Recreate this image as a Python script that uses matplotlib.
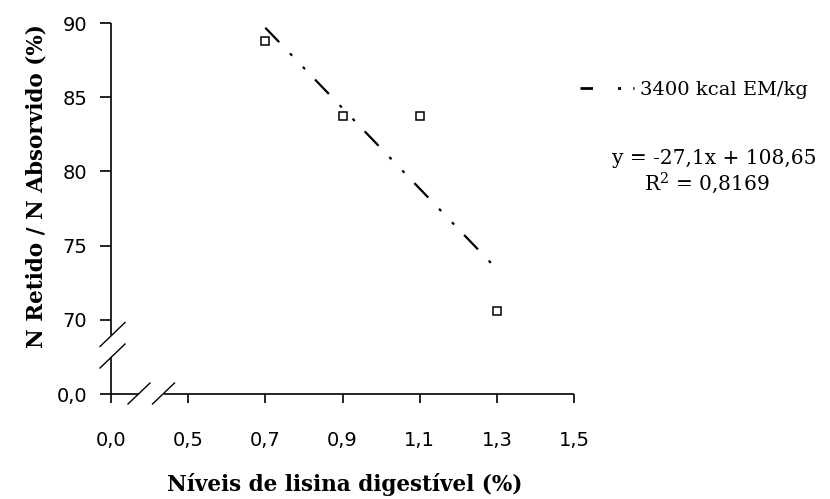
import numpy as np
import matplotlib.pyplot as plt
from matplotlib.lines import Line2D

# dados (eixo x com quebra: o "0,0" fica na posicao 0.3, eixo y: "0,0" em 65)
lisina = [0.7, 0.9, 1.1, 1.3]
n_retido = [88.8, 83.7, 83.7, 70.6]
slope = -27.1
intercept = 108.65
xticks = [0.3, 0.5, 0.7, 0.9, 1.1, 1.3, 1.5]
xlabels = ["0,0", "0,5", "0,7", "0,9", "1,1", "1,3", "1,5"]
yticks = [65, 70, 75, 80, 85, 90]
ylabels = ["0,0", "70", "75", "80", "85", "90"]

serif = "DejaVu Serif"
plt.rcParams['mathtext.fontset'] = 'dejavuserif'

fig = plt.figure(figsize=(8.3, 4.99), dpi=100)
ax = fig.add_axes([111/830, 105/499, 463/830, 371/499])
ax.set_xlim(0.3, 1.5)
ax.set_ylim(65, 90)

# linha de tendencia
tx = np.array([lisina[0], lisina[-1]])
ty = slope * tx + intercept
dashdotdot = (0, (9, 7, 1.4, 7, 1.4, 6.5))
ax.plot(tx, ty, color='black', lw=1.6, linestyle=dashdotdot, clip_on=False)
ax.plot(lisina, n_retido, 's', ms=6, mfc='white', mec='black', mew=1.1,
        linestyle='none', clip_on=False)

# eixos com quebras
for s in ax.spines.values():
    s.set_visible(False)
xpx = 1.2 / 463
ypx = 25 / 371
kw = dict(color='black', lw=1.2, clip_on=False, solid_capstyle='butt')
ax.plot([0.3, 0.3], [65, 65 + 37*ypx], **kw)
ax.plot([0.3, 0.3], [65 + 59*ypx, 90], **kw)
ax.plot([0.3, 0.3 + 28*xpx], [65, 65], **kw)
ax.plot([0.3 + 53*xpx, 1.5], [65, 65], **kw)
for cy in [59.5, 38]:
    ax.plot([0.3 - 11*xpx, 0.3 + 14*xpx], [65 + (cy - 12)*ypx, 65 + (cy + 12)*ypx],
            color='black', lw=1, clip_on=False)
for cx in [28, 52.5]:
    ax.plot([0.3 + (cx - 11)*xpx, 0.3 + (cx + 11)*xpx], [65 - 10*ypx, 65 + 11*ypx],
            color='black', lw=1, clip_on=False)

ax.set_xticks(xticks)
ax.set_xticklabels(xlabels)
ax.set_yticks(yticks)
ax.set_yticklabels(ylabels)
ax.tick_params(axis='x', direction='out', length=6.5, width=1.2, pad=20, labelsize=14)
ax.tick_params(axis='y', direction='out', length=8, width=1.2, pad=9, labelsize=14)

fig.text(345/830, 1 - 485/499, "Níveis de lisina digestível (%)", fontfamily=serif,
         fontweight='bold', fontsize=15.5, ha='center', va='center')
fig.text(37/830, 1 - 186/499, "N Retido / N Absorvido (%)", fontfamily=serif,
         fontweight='bold', fontsize=15.5, ha='center', va='center', rotation=90)

# legenda e equacao
h = Line2D([0], [0], color='black', lw=2, linestyle=(0, (4.5, 9, 1.1, 4.4, 1.1, 15)))
fig.legend([h], ["3400 kcal EM/kg"], loc='center left',
           bbox_to_anchor=(570/830, 1 - 90/499), frameon=False, handlelength=2.8,
           handletextpad=0.3, borderpad=0, prop={'family': serif, 'size': 14})
fig.text(714/830, 1 - 158/499, "y = -27,1x + 108,65", fontfamily=serif,
         fontsize=14.5, ha='center', va='center')
fig.text(707/830, 1 - 183/499, "R$^2$ = 0,8169", fontfamily=serif,
         fontsize=14.5, ha='center', va='center')

fig.savefig("out.png", dpi=100)
